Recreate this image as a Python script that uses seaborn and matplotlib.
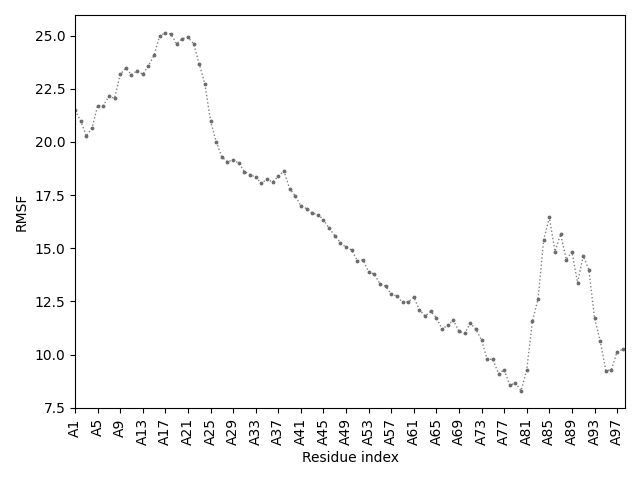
import matplotlib
matplotlib.use("Agg")
import matplotlib.pyplot as plt
import numpy as np
import pandas as pd
import seaborn as sns

residues = [f"A{i}" for i in range(1, 99)]
rmsf = [
    21.48, 21.00, 20.27, 20.65, 21.71, 21.71, 22.14, 22.06, 23.18, 23.47,
    23.16, 23.35, 23.18, 23.58, 24.08, 24.99, 25.13, 25.08, 24.61, 24.86,
    24.92, 24.62, 23.66, 22.72, 20.98, 20.02, 19.29, 19.07, 19.15, 19.01,
    18.61, 18.46, 18.35, 18.06, 18.25, 18.12, 18.39, 18.64, 17.81, 17.46,
    17.00, 16.87, 16.65, 16.59, 16.35, 15.94, 15.60, 15.27, 15.04, 14.92,
    14.42, 14.46, 13.89, 13.79, 13.33, 13.22, 12.84, 12.75, 12.47, 12.48,
    12.70, 12.11, 11.82, 12.03, 11.74, 11.20, 11.38, 11.62, 11.10, 11.00,
    11.47, 11.20, 10.68, 9.78, 9.78, 9.10, 9.29, 8.56, 8.67, 8.31,
    9.29, 11.56, 12.62, 15.40, 16.45, 14.85, 15.66, 14.47, 14.84, 13.38,
    14.65, 14.00, 11.72, 10.66, 9.25, 9.29, 10.14, 10.25,
]

df = pd.DataFrame({"pos": np.arange(len(residues)), "residue": residues, "rmsf": rmsf})

fig, ax = plt.subplots(figsize=(6.4, 4.8), dpi=100)
sns.lineplot(data=df, x="pos", y="rmsf", ax=ax, color="gray", linestyle=":",
             linewidth=1, marker="o", markersize=2,
             markerfacecolor="dimgray", markeredgecolor="dimgray")

ax.set_xticks(df["pos"][::4])
ax.set_xticklabels(df["residue"][::4], rotation=90)
ax.set_xlim(0, 97.4)
ax.set_ylim(7.47, 25.97)
ax.set_xlabel("Residue index")
ax.set_ylabel("RMSF")

plt.tight_layout()
plt.savefig("out.png")
